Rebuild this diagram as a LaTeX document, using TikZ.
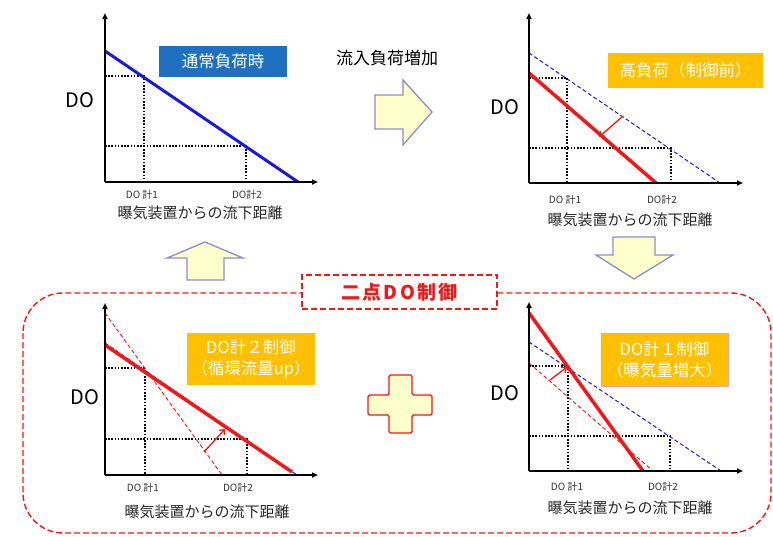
\documentclass[tikz,border=0pt]{standalone}
\usepackage{fontspec}
\setmainfont{Noto Sans CJK JP}
\usetikzlibrary{arrows.meta}
\definecolor{lineblue}{HTML}{1A1AD8}
\definecolor{boxblue}{HTML}{1F70C1}
\definecolor{boxorange}{HTML}{FFC000}
\definecolor{linered}{HTML}{F01818}
\definecolor{arrowfill}{HTML}{FFFFCC}
\definecolor{arrowline}{HTML}{8C8CD2}
\definecolor{pinkline}{HTML}{F4A0A0}
\tikzset{
  axis/.style={line width=2.4pt,-{Triangle[length=6pt,width=5pt]}},
  guide/.style={line width=2pt,dash pattern=on 1.6pt off 1.6pt},
  bluesolid/.style={lineblue,line width=3pt},
  bluedash/.style={lineblue,line width=1pt,dash pattern=on 4pt off 2.5pt},
  redthick/.style={linered,line width=3.5pt},
  redthin/.style={linered,line width=0.9pt,dash pattern=on 4pt off 2.5pt},
  shiftarrow/.style={linered,line width=1.3pt,-{Straight Barb[length=4pt,width=7pt]}},
  dolabel/.style={font=\fontsize{20}{24}\selectfont},
  meter/.style={font=\fontsize{10}{12}\selectfont,text=black!80},
  caption/.style={font=\fontsize{15}{18}\selectfont,text=black!85},
  tag/.style={text=white,align=center,inner sep=0pt,font=\fontsize{16.5}{21}\selectfont},
  blockarrow/.style={fill=arrowfill,draw=arrowline,line width=1.3pt,line join=miter},
}
\begin{document}
\begin{tikzpicture}[x=1pt,y=-1pt]
\useasboundingbox (0,0) rectangle (773,536);

% ---------- group frame ----------
\draw[linered,line width=1.4pt,dash pattern=on 6pt off 3pt,rounded corners=40pt] (23,293) rectangle (771,533);
\node[draw=linered,fill=white,line width=1.4pt,dash pattern=on 6pt off 3pt,minimum width=195pt,minimum height=34pt,inner sep=0pt,text=linered,font=\bfseries\fontsize{19}{22}\selectfont\addfontfeature{LetterSpace=12}] (title) at (399.5,292) {二点DO制御};

% ---------- panel 1 ----------
\coordinate (p1o) at (105,182);
\coordinate (p1y) at (105,13);
\coordinate (p1x) at (318,182);
\coordinate (p1a) at (105,51);
\coordinate (p1b) at (298,182);
\draw[guide] (105,76) -- (144,76) -- (144,182);
\draw[guide] (105,146) -- (246,146) -- (246,182);
\draw[bluesolid] (p1a) -- (p1b);
\draw[axis] (p1o) -- (p1y);
\draw[axis] (p1o) -- (p1x);
\node[dolabel] (p1do) at (80,100) {DO};
\node[meter] (p1m1) at (142,195) {DO 計1};
\node[meter] (p1m2) at (247,195) {DO計2};
\node[caption] (p1cap) at (200,213) {曝気装置からの流下距離};
\node[tag,fill=boxblue,minimum width=128pt,minimum height=31pt] (p1tag) at (223,61) {通常負荷時};

% ---------- arrow right ----------
\node[font=\fontsize{17}{20}\selectfont] (inflow) at (387,58) {流入負荷増加};
\draw[blockarrow] (375,95) -- (403,95) -- (403,80) -- (432,112) -- (403,145) -- (403,129) -- (375,129) -- cycle;

% ---------- panel 2 ----------
\coordinate (p2o) at (529,183);
\coordinate (p2y) at (529,13);
\coordinate (p2x) at (743,183);
\coordinate (p2ba) at (529,53);
\coordinate (p2bb) at (720,183);
\coordinate (p2ra) at (529,73);
\coordinate (p2rb) at (656,183);
\coordinate (p2s) at (623,116);
\coordinate (p2e) at (599,137);
\draw[guide] (529,78) -- (567,78) -- (567,183);
\draw[guide] (529,148) -- (671,148) -- (671,183);
\draw[bluedash] (p2ba) -- (p2bb);
\draw[redthick] (p2ra) -- (p2rb);
\draw[shiftarrow] (p2s) -- (p2e);
\draw[axis] (p2o) -- (p2y);
\draw[axis] (p2o) -- (p2x);
\node[dolabel] (p2do) at (505,107) {DO};
\node[meter] (p2m1) at (565,200) {DO 計1};
\node[meter] (p2m2) at (662,200) {DO計2};
\node[caption] (p2cap) at (630,220) {曝気装置からの流下距離};
\node[tag,fill=boxorange,minimum width=155pt,minimum height=35pt] (p2tag) at (685.5,70.5) {高負荷（制御前）};

% ---------- arrow down ----------
\draw[blockarrow] (613,237) -- (655,237) -- (655,255) -- (673,255) -- (634,279) -- (596,255) -- (613,255) -- cycle;

% ---------- arrow up ----------
\draw[blockarrow] (187,280) -- (224,280) -- (224,258) -- (243,258) -- (205,242) -- (167,258) -- (187,258) -- cycle;

% ---------- panel 3 ----------
\coordinate (p3o) at (105,475);
\coordinate (p3y) at (105,303);
\coordinate (p3x) at (318,475);
\coordinate (p3da) at (105,313);
\coordinate (p3db) at (222,475);
\coordinate (p3ba) at (105,343);
\coordinate (p3bb) at (297,475);
\coordinate (p3ra) at (105,345);
\coordinate (p3rb) at (292,472);
\coordinate (p3s) at (204,452);
\coordinate (p3e) at (225,429);
\draw[guide] (105,368) -- (145,368) -- (145,475);
\draw[guide] (105,439) -- (247,439) -- (247,475);
\draw[redthin] (p3da) -- (p3db);
\draw[bluedash] (p3ba) -- (p3bb);
\draw[redthick] (p3ra) -- (p3rb);
\draw[shiftarrow] (p3s) -- (p3e);
\draw[axis] (p3o) -- (p3y);
\draw[axis] (p3o) -- (p3x);
\node[dolabel] (p3do) at (85,397) {DO};
\node[meter] (p3m1) at (143,488) {DO 計1};
\node[meter] (p3m2) at (238,488) {DO計2};
\node[caption] (p3cap) at (207,512) {曝気装置からの流下距離};
\node[tag,fill=boxorange,minimum width=128pt,minimum height=52pt] (p3tag) at (251,359) {DO計２制御\\（循環流量up）};

% ---------- plus ----------
\draw[fill=arrowfill,draw=linered,line width=1.4pt,rounded corners=1.5pt]
  (389,375) -- (412,375) -- (412,395) -- (432,395) -- (432,415) -- (412,415) -- (412,433)
  -- (389,433) -- (389,415) -- (368,415) -- (368,395) -- (389,395) -- cycle;

% ---------- panel 4 ----------
\coordinate (p4o) at (529,471);
\coordinate (p4y) at (529,302);
\coordinate (p4x) at (743,471);
\coordinate (p4ra) at (529,313);
\coordinate (p4rb) at (643,471);
\coordinate (p4ba) at (529,342);
\coordinate (p4bb) at (721,471);
\coordinate (p4da) at (529,363);
\coordinate (p4db) at (653,471);
\coordinate (p4s) at (550,380);
\coordinate (p4e) at (567,367);
\draw[guide] (529,366) -- (568,366) -- (568,471);
\draw[guide] (529,436) -- (670,436) -- (670,471);
\draw[bluedash] (p4ba) -- (p4bb);
\draw[redthin] (p4da) -- (p4db);
\draw[redthick] (p4ra) -- (p4rb);
\draw[shiftarrow] (p4s) -- (p4e);
\draw[axis] (p4o) -- (p4y);
\draw[axis] (p4o) -- (p4x);
\node[dolabel] (p4do) at (505,393) {DO};
\node[meter] (p4m1) at (567,487) {DO 計1};
\node[meter] (p4m2) at (663,487) {DO計2};
\node[caption] (p4cap) at (630,508) {曝気装置からの流下距離};
\node[tag,fill=boxorange,draw=pinkline,line width=0.8pt,minimum width=127pt,minimum height=53pt] (p4tag) at (664.5,359.5) {DO計１制御\\（曝気量増大）};
\end{tikzpicture}
\end{document}
